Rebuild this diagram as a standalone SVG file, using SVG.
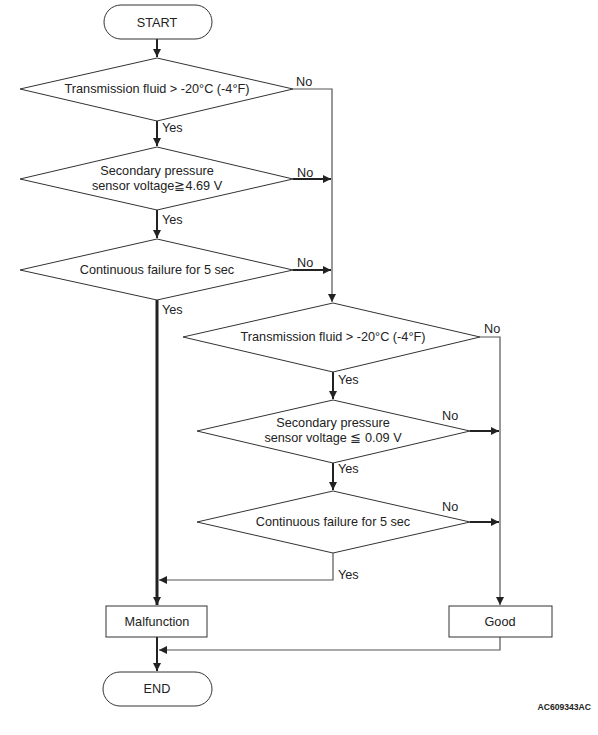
<svg xmlns="http://www.w3.org/2000/svg" width="598" height="735" viewBox="0 0 598 735">
<style>
.s{fill:#fff;stroke:#333;stroke-width:1}
.t{font-family:"Liberation Sans",Arial,sans-serif;font-size:12.7px;fill:#222;text-anchor:middle}
.l{font-family:"Liberation Sans",Arial,sans-serif;font-size:12.7px;fill:#222}
.c{fill:none;stroke:#222}
.w1{stroke-width:1.2;stroke:#555}
.w2{stroke-width:2}
.w3{stroke-width:3}
</style>
<defs>
<marker id="a" markerUnits="userSpaceOnUse" markerWidth="10" markerHeight="10" refX="8" refY="4" orient="auto">
<path d="M0,0 L8,4 L0,8 Z" fill="#222"/>
</marker>
</defs>
<rect width="598" height="735" fill="#fff"/>
<g id="connectors">
<path class="c w2" d="M157,39 V57" marker-end="url(#a)"/>
<path class="c w1" d="M293,89 H332 V302" marker-end="url(#a)"/>
<path class="c w2" d="M157,121 V146" marker-end="url(#a)"/>
<path class="c w2" d="M293,179 H331" marker-end="url(#a)"/>
<path class="c w2" d="M157,210 V238" marker-end="url(#a)"/>
<path class="c w2" d="M293,270 H331" marker-end="url(#a)"/>
<path class="c w3" d="M157,300 V605" marker-end="url(#a)"/>
<path class="c w1" d="M480,337 H500 V605" marker-end="url(#a)"/>
<path class="c w2" d="M333,372 V399" marker-end="url(#a)"/>
<path class="c w2" d="M470,431 H499" marker-end="url(#a)"/>
<path class="c w2" d="M333,463 V490" marker-end="url(#a)"/>
<path class="c w2" d="M470,522 H499" marker-end="url(#a)"/>
<path class="c w1" d="M333,553 V580 H159" marker-end="url(#a)"/>
<path class="c w1" d="M500,637 V650 H159" marker-end="url(#a)"/>
<path class="c w2" d="M157,637 V671" marker-end="url(#a)"/>
<text class="l" x="296" y="86">No</text>
<text class="l" x="162" y="132">Yes</text>
<text class="l" x="297" y="177">No</text>
<text class="l" x="162" y="224">Yes</text>
<text class="l" x="297" y="267">No</text>
<text class="l" x="162" y="314">Yes</text>
<text class="l" x="484" y="333">No</text>
<text class="l" x="338" y="384">Yes</text>
<text class="l" x="442" y="420">No</text>
<text class="l" x="338" y="473">Yes</text>
<text class="l" x="442" y="511">No</text>
<text class="l" x="338" y="579">Yes</text>
</g>
<g id="start">
<rect class="s" x="104" y="5" width="108" height="34" rx="17"/>
<text class="t" x="157" y="27">START</text>
</g>
<g id="d1">
<polygon class="s" points="157,58 293,89 157,121 20,89"/>
<text class="t" x="157" y="93">Transmission fluid &gt; -20°C (-4°F)</text>
</g>
<g id="d2">
<polygon class="s" points="157,147 293,179 157,210 20,179"/>
<text class="t" x="157" y="175">Secondary pressure</text>
<text class="t" x="157" y="190">sensor voltage≧4.69 V</text>
</g>
<g id="d3">
<polygon class="s" points="157,239 293,270 157,300 20,270"/>
<text class="t" x="157" y="274">Continuous failure for 5 sec</text>
</g>
<g id="d4">
<polygon class="s" points="333,303 480,337 333,372 183,337"/>
<text class="t" x="333" y="341">Transmission fluid &gt; -20°C (-4°F)</text>
</g>
<g id="d5">
<polygon class="s" points="333,400 470,431 333,463 197,431"/>
<text class="t" x="333" y="427">Secondary pressure</text>
<text class="t" x="333" y="442">sensor voltage ≦ 0.09 V</text>
</g>
<g id="d6">
<polygon class="s" points="333,491 470,522 333,553 197,522"/>
<text class="t" x="333" y="526">Continuous failure for 5 sec</text>
</g>
<g id="malfunction">
<rect class="s" x="106" y="606" width="101" height="31"/>
<text class="t" x="157" y="626">Malfunction</text>
</g>
<g id="good">
<rect class="s" x="449" y="606" width="103" height="31"/>
<text class="t" x="500" y="626">Good</text>
</g>
<g id="end">
<rect class="s" x="103" y="672" width="109" height="34" rx="17"/>
<text class="t" x="157" y="693">END</text>
</g>
<text x="591" y="710" style="font-family:'Liberation Sans',Arial,sans-serif;font-size:8.6px;font-weight:bold;fill:#222;text-anchor:end">AC609343AC</text>
</svg>
